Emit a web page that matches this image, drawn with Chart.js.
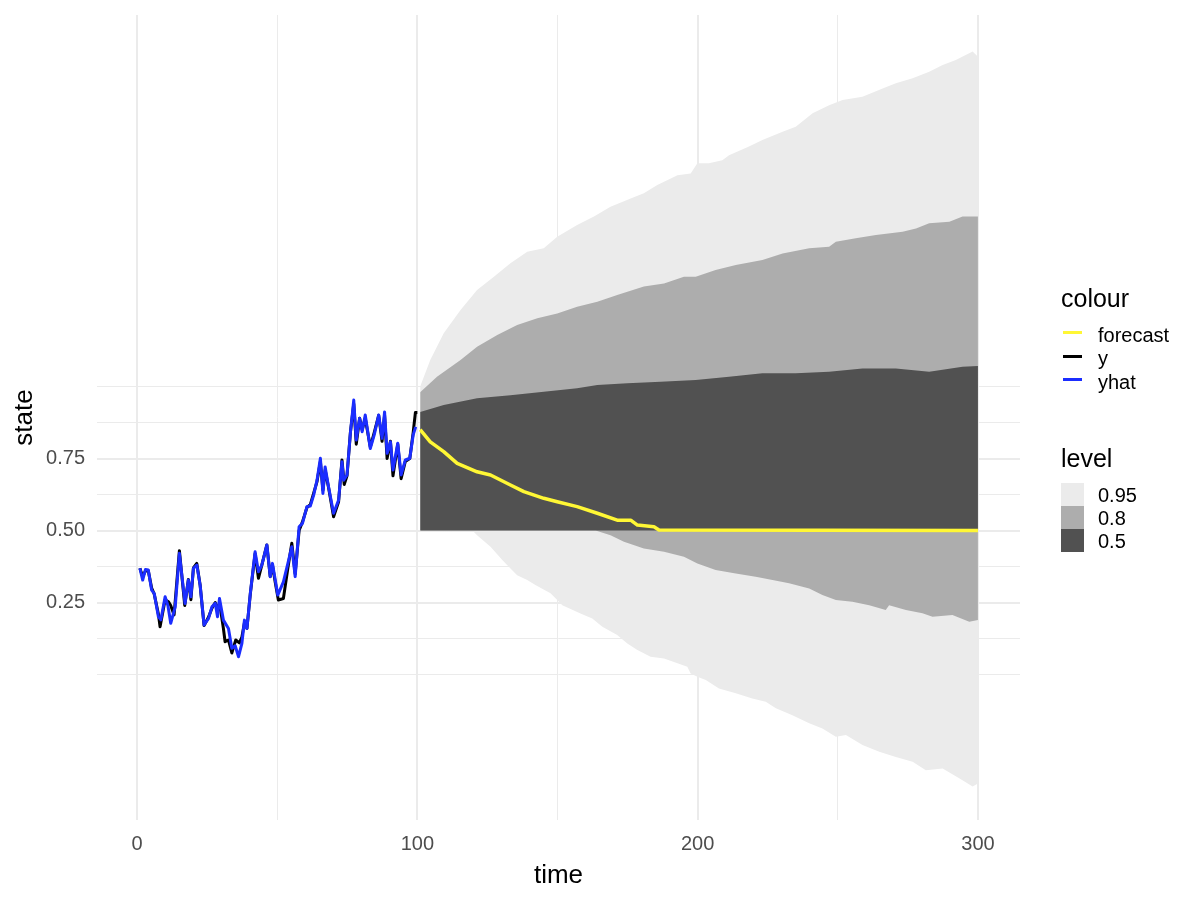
<!DOCTYPE html>
<html>
<head>
<meta charset="utf-8">
<script src="https://cdn.jsdelivr.net/npm/chart.js@4.4.1/dist/chart.umd.min.js"></script>
<style>
  html, body { margin: 0; padding: 0; background: #fff; }
  #wrap { position: relative; width: 1200px; height: 900px; font-family: 'Liberation Sans', Arial, sans-serif; }
  #chart { position: absolute; left: 0; top: 0; }
  .lg { position: absolute; line-height: 1; white-space: nowrap; color: #000; }
  .lg-title { font-size: 25px; }
  .lg-label { font-size: 20px; }
  .lg-line { position: absolute; width: 19px; height: 3px; }
  .lg-box { position: absolute; width: 23px; height: 23px; }
</style>
</head>
<body>
<div id="wrap">
  <canvas id="chart" width="1200" height="900"></canvas>

  <div class="lg lg-title" style="left:1061px; top:286px;">colour</div>
  <div class="lg-line" style="left:1063px; top:331px; background:#FFF735;"></div>
  <div class="lg-line" style="left:1063px; top:355px; background:#000000;"></div>
  <div class="lg-line" style="left:1063px; top:378px; background:#1B2DFF;"></div>
  <div class="lg lg-label" style="left:1098px; top:325px;">forecast</div>
  <div class="lg lg-label" style="left:1098px; top:348px;">y</div>
  <div class="lg lg-label" style="left:1098px; top:372px;">yhat</div>

  <div class="lg lg-title" style="left:1061px; top:446px;">level</div>
  <div class="lg-box" style="left:1061px; top:483px; background:#EBEBEB;"></div>
  <div class="lg-box" style="left:1061px; top:506px; background:#ADADAD;"></div>
  <div class="lg-box" style="left:1061px; top:529px; background:#515151;"></div>
  <div class="lg lg-label" style="left:1098px; top:485px;">0.95</div>
  <div class="lg lg-label" style="left:1098px; top:508px;">0.8</div>
  <div class="lg lg-label" style="left:1098px; top:531px;">0.5</div>
</div>

<script>
  // [time, state] pairs
  const yLine = [
    [1, 0.369], [2, 0.34], [3, 0.36], [4, 0.36], [5.2, 0.3], [6.1, 0.28], [7.6, 0.21], [8.2, 0.166],
    [10, 0.26], [11.2, 0.253], [12, 0.24], [13.2, 0.207], [15.1, 0.43], [17, 0.24], [18.3, 0.33],
    [19.2, 0.26], [20.1, 0.37], [21.3, 0.386], [22.5, 0.31], [23.9, 0.17], [25.5, 0.2], [26.7, 0.23],
    [27.9, 0.25], [28.7, 0.22], [29.4, 0.25], [30.8, 0.16], [31.4, 0.114], [32.6, 0.12], [33.8, 0.075],
    [35.2, 0.12], [36.5, 0.11], [37.4, 0.13], [38.3, 0.18], [39.2, 0.16], [40.4, 0.28], [42.1, 0.42],
    [43.3, 0.334], [44.5, 0.38], [46.3, 0.45], [47.5, 0.34], [48.3, 0.38], [49.3, 0.32], [50.4, 0.259],
    [52.2, 0.264], [53.8, 0.37], [55.2, 0.456], [56.4, 0.35], [57.8, 0.5], [59, 0.53], [60.6, 0.58],
    [61.8, 0.59], [63, 0.63], [64.2, 0.67], [65.4, 0.74], [66.3, 0.64], [67.1, 0.71], [68.3, 0.65],
    [70.1, 0.548], [71.9, 0.6], [73.1, 0.745], [73.9, 0.66], [74.9, 0.69], [76.1, 0.84], [77.3, 0.94],
    [78.2, 0.8], [79.4, 0.89], [80.3, 0.85], [81.4, 0.89], [83.2, 0.79], [84.6, 0.84], [86.2, 0.9],
    [87.4, 0.81], [88.3, 0.9], [89.2, 0.75], [90.4, 0.81], [91.3, 0.69], [93, 0.8], [94.2, 0.68],
    [95.7, 0.74], [97.3, 0.75], [98.5, 0.84], [99.3, 0.91], [100, 0.91]
  ];

  const yhatLine = [
    [1, 0.369], [2, 0.328], [3, 0.365], [4, 0.363], [5.2, 0.293], [6.1, 0.282], [7.6, 0.201], [8.5, 0.19],
    [10, 0.27], [11, 0.24], [12, 0.178], [13.6, 0.235], [15.1, 0.421], [17.1, 0.247], [18.3, 0.328],
    [19.2, 0.27], [20.1, 0.369], [21.3, 0.38], [22.5, 0.31], [23.9, 0.172], [25.5, 0.195], [26.7, 0.235],
    [27.9, 0.247], [28.7, 0.201], [29.4, 0.264], [30.8, 0.189], [32.6, 0.16], [33.8, 0.091], [35, 0.1],
    [36.2, 0.062], [37.4, 0.108], [38.3, 0.189], [39.2, 0.16], [40.4, 0.282], [42.1, 0.426], [43.3, 0.357],
    [44.5, 0.38], [46.3, 0.45], [47.5, 0.34], [48.3, 0.386], [49.3, 0.328], [50.2, 0.276], [52.2, 0.322],
    [53.8, 0.386], [55.2, 0.444], [56.4, 0.34], [57.8, 0.513], [59, 0.525], [60.6, 0.583], [61.8, 0.585],
    [63, 0.623], [64.2, 0.675], [65.4, 0.751], [66.3, 0.629], [67.1, 0.721], [68.3, 0.652], [70.1, 0.56],
    [71.9, 0.606], [73.1, 0.739], [73.7, 0.675], [74.9, 0.693], [76.1, 0.838], [77.3, 0.953], [78.2, 0.814],
    [79.4, 0.89], [80.3, 0.843], [81.4, 0.901], [83.2, 0.785], [84.6, 0.832], [86.2, 0.901], [87.4, 0.82],
    [88.3, 0.912], [89.2, 0.768], [90.4, 0.808], [91.3, 0.71], [93, 0.803], [94.2, 0.693], [95.7, 0.745],
    [97.3, 0.751], [98.5, 0.832], [99.4, 0.86]
  ];

  const forecastLine = [
    [101, 0.85], [104.6, 0.808], [109.4, 0.774], [114.2, 0.733], [121.3, 0.704], [126.1, 0.693],
    [133.2, 0.658], [138, 0.635], [145.1, 0.612], [149.9, 0.6], [157, 0.583], [164.2, 0.56],
    [171.3, 0.536], [176.1, 0.536], [178.5, 0.519], [184.4, 0.513], [186.2, 0.502], [300, 0.5]
  ];

  const upper50 = [
    [101, 0.912], [109.4, 0.936], [121.3, 0.959], [133.2, 0.97], [145.1, 0.982], [157, 0.994],
    [164.2, 1.005], [174.9, 1.011], [186.8, 1.017], [199.3, 1.023], [211.2, 1.034], [223.1, 1.046],
    [235, 1.046], [246.9, 1.051], [258.8, 1.063], [270.7, 1.063], [282.6, 1.051], [294.5, 1.069], [300, 1.071]
  ];
  const lower50 = [[101, 0.5], [300, 0.5]];

  const upper80 = [
    [101, 0.98], [107, 1.034], [115.4, 1.092], [121.3, 1.138], [128.5, 1.179], [135.6, 1.214],
    [142.8, 1.237], [149.9, 1.254], [157, 1.277], [164.2, 1.294], [171.3, 1.318], [180.8, 1.347],
    [188, 1.358], [195.1, 1.381], [199.3, 1.381], [206.4, 1.405], [213.6, 1.422], [223.1, 1.439],
    [230.3, 1.462], [239.8, 1.48], [246.9, 1.485], [249.3, 1.503], [256.4, 1.515], [263.6, 1.526],
    [273.1, 1.537], [277.9, 1.549], [282.6, 1.567], [289.8, 1.572], [294.5, 1.59], [300, 1.59]
  ];
  const lower80 = [
    [101, 0.5], [163.6, 0.5], [168.9, 0.484], [173.7, 0.461], [180.8, 0.438], [188, 0.426],
    [195.1, 0.409], [199.9, 0.386], [206.4, 0.363], [213.6, 0.351], [220.7, 0.34], [226.7, 0.328],
    [232.6, 0.317], [239.8, 0.299], [244.5, 0.276], [249.3, 0.259], [255.2, 0.253], [261.2, 0.241],
    [267.1, 0.224], [268.3, 0.241], [274.3, 0.224], [280.2, 0.213], [283.8, 0.201], [290.9, 0.207],
    [296.9, 0.183], [300, 0.189]
  ];

  const upper95 = [
    [101, 1.0], [104.6, 1.092], [109.4, 1.185], [115.4, 1.266], [121.3, 1.335], [127.3, 1.381],
    [133.2, 1.428], [139.2, 1.468], [145.1, 1.48], [149.9, 1.52], [157, 1.561], [163, 1.59],
    [168.9, 1.624], [176.1, 1.653], [180.8, 1.671], [185.6, 1.7], [192.8, 1.734], [197.5, 1.74],
    [199.9, 1.775], [204, 1.775], [208.8, 1.786], [211.2, 1.803], [218.3, 1.833], [223.1, 1.856],
    [230.3, 1.885], [235, 1.902], [241, 1.949], [246.9, 1.977], [251.7, 1.995], [258.8, 2.006],
    [266, 2.035], [270.7, 2.053], [276.7, 2.07], [282.6, 2.093], [287.4, 2.116], [292.1, 2.134],
    [298.1, 2.163], [300, 2.145]
  ];
  const lower95 = [
    [101, 0.5], [120.1, 0.496], [121.3, 0.484], [126.1, 0.444], [130.3, 0.398], [132, 0.38],
    [135.6, 0.345], [139.2, 0.328], [142.1, 0.311], [147.5, 0.282], [149.9, 0.259], [151.7, 0.241],
    [158.2, 0.212], [162.4, 0.195], [166, 0.166], [171.3, 0.137], [174.9, 0.108], [178.5, 0.085],
    [183.2, 0.062], [188, 0.056], [192.8, 0.039], [196.3, 0.027], [197.5, 0.004], [199.9, -0.008],
    [202.9, -0.019], [207.6, -0.048], [213.6, -0.065], [219.5, -0.083], [224.3, -0.094], [227.9, -0.117],
    [233.8, -0.141], [239.8, -0.169], [244.5, -0.187], [249.3, -0.216], [252.9, -0.21], [258.8, -0.245],
    [264.8, -0.268], [270.7, -0.286], [276.7, -0.303], [281.4, -0.332], [287.4, -0.326], [293.3, -0.36],
    [298.1, -0.389], [300, -0.378]
  ];

  const xTicks = [0, 50, 100, 150, 200, 250, 300];
  const xLabels = [0, 100, 200, 300];
  const yTicks = [0, 0.125, 0.25, 0.375, 0.5, 0.625, 0.75, 0.875, 1];
  const yLabels = [0.25, 0.5, 0.75];

  function toPoints(pairs) {
    return pairs.map(function (p) { return { x: p[0], y: p[1] }; });
  }

  function lineSet(pairs, color, width) {
    return {
      data: toPoints(pairs),
      borderColor: color,
      borderWidth: width,
      borderJoinStyle: 'round',
      pointRadius: 0,
      fill: false
    };
  }

  function bandTop(pairs, color) {
    return {
      data: toPoints(pairs),
      borderColor: 'transparent',
      borderWidth: 0,
      pointRadius: 0,
      backgroundColor: color,
      fill: '+1'
    };
  }

  function bandBottom(pairs) {
    return {
      data: toPoints(pairs),
      borderColor: 'transparent',
      borderWidth: 0,
      pointRadius: 0,
      fill: false
    };
  }

  const isLabel = function (list, v) {
    return list.some(function (l) { return Math.abs(l - v) < 1e-9; });
  };

  const fontFamily = "'Liberation Sans', Arial, sans-serif";

  new Chart(document.getElementById('chart'), {
    type: 'line',
    data: {
      // index 0 is drawn on top
      datasets: [
        lineSet(yhatLine, '#1B2DFF', 3),
        lineSet(yLine, '#000000', 3),
        lineSet(forecastLine, '#FFF735', 3.5),
        bandTop(upper50, '#515151'),
        bandBottom(lower50),
        bandTop(upper80, '#ADADAD'),
        bandBottom(lower80),
        bandTop(upper95, '#EBEBEB'),
        bandBottom(lower95)
      ]
    },
    options: {
      responsive: false,
      animation: false,
      devicePixelRatio: 1,
      layout: { padding: { top: 15, right: 180, left: 0, bottom: 0 } },
      plugins: {
        legend: { display: false },
        tooltip: { enabled: false }
      },
      scales: {
        x: {
          type: 'linear',
          min: -14.3,
          max: 315,
          afterBuildTicks: function (scale) {
            scale.ticks = xTicks.map(function (v) { return { value: v }; });
          },
          afterFit: function (scale) {
            scale.height = 80;
            scale.paddingLeft = 0;
            scale.paddingRight = 0;
          },
          border: { display: false },
          grid: {
            color: '#EBEBEB',
            drawTicks: false,
            lineWidth: function (ctx) {
              return ctx.tick && isLabel(xLabels, ctx.tick.value) ? 2 : 1;
            }
          },
          ticks: {
            autoSkip: false,
            maxRotation: 0,
            padding: 12,
            color: '#4D4D4D',
            font: { family: fontFamily, size: 20 },
            callback: function (v) { return isLabel(xLabels, v) ? String(v) : ''; }
          },
          title: {
            display: true,
            text: 'time',
            color: '#000000',
            font: { family: fontFamily, size: 26 },
            padding: { top: 0, bottom: 9 }
          }
        },
        y: {
          type: 'linear',
          min: -0.505,
          max: 2.29,
          afterBuildTicks: function (scale) {
            scale.ticks = yTicks.map(function (v) { return { value: v }; });
          },
          afterFit: function (scale) {
            scale.width = 97;
            scale.paddingTop = 0;
            scale.paddingBottom = 0;
          },
          border: { display: false },
          grid: {
            color: '#EBEBEB',
            drawTicks: false,
            lineWidth: function (ctx) {
              return ctx.tick && isLabel(yLabels, ctx.tick.value) ? 2 : 1;
            }
          },
          ticks: {
            autoSkip: false,
            padding: 12,
            color: '#4D4D4D',
            font: { family: fontFamily, size: 20 },
            callback: function (v) { return isLabel(yLabels, v) ? v.toFixed(2) : ''; }
          },
          title: {
            display: true,
            text: 'state',
            color: '#000000',
            font: { family: fontFamily, size: 26 },
            padding: { top: 9, bottom: 0 }
          }
        }
      }
    }
  });
</script>
</body>
</html>
